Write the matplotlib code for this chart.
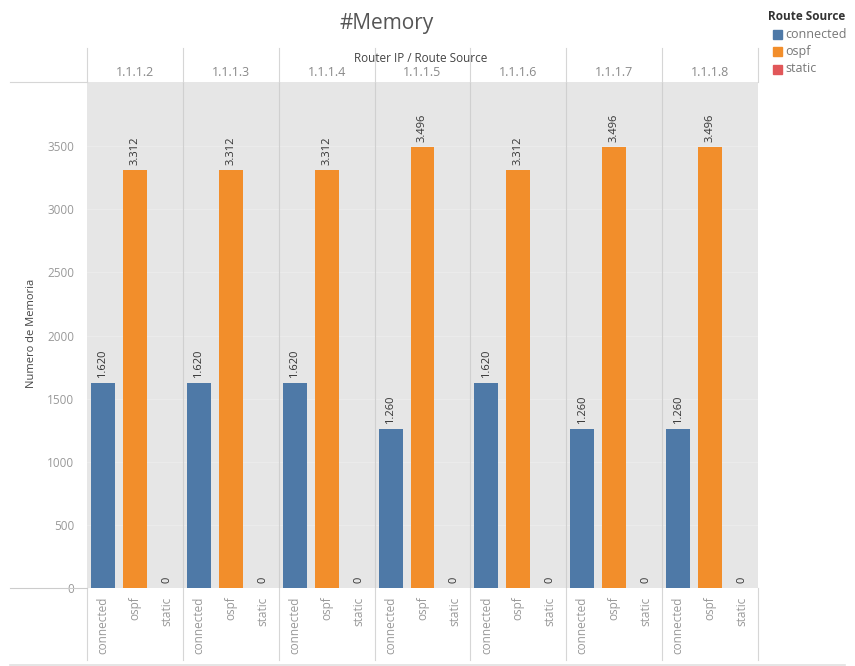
import matplotlib.pyplot as plt
from matplotlib.patches import Rectangle
from matplotlib.lines import Line2D

# data
routers = ['1.1.1.2', '1.1.1.3', '1.1.1.4', '1.1.1.5', '1.1.1.6', '1.1.1.7', '1.1.1.8']
sources = ['connected', 'ospf', 'static']
connected = [1620, 1620, 1620, 1260, 1620, 1260, 1260]
ospf = [3312, 3312, 3312, 3496, 3312, 3496, 3496]
static = [0, 0, 0, 0, 0, 0, 0]
colors = ['#4e79a7', '#f28e2b', '#e15759']
yticks = [0, 500, 1000, 1500, 2000, 2500, 3000, 3500]

W, H = 855, 666
fig = plt.figure(figsize=(W / 100, H / 100), dpi=100)
plt.rcParams['font.family'] = ['Open Sans', 'DejaVu Sans']

x0, x1, ytop, ybot = 87, 758, 82, 588
ax = fig.add_axes([x0 / W, 1 - ybot / H, (x1 - x0) / W, (ybot - ytop) / H])
ax.set_facecolor('#e6e6e6')

n = len(routers)
ax.set_xlim(0, n * 3)
ax.set_ylim(0, 4008)

for yt in yticks[1:]:
    ax.axhline(yt, color='#ececec', lw=0.6, zorder=0)

series = [connected, ospf, static]
for s, vals in enumerate(series):
    for i, v in enumerate(vals):
        xc = i * 3 + s + 0.5
        ax.bar(xc, v, width=0.75, color=colors[s], zorder=2)
        lab = f'{v:,}'.replace(',', '.')
        ax.text(xc, v + 40, lab, rotation=90, ha='center', va='bottom',
                fontsize=8, color='#333333', zorder=3)

# pane separators
for i in range(1, n):
    ax.axvline(i * 3, color='#d0d0d0', lw=0.8, zorder=1)

for sp in ax.spines.values():
    sp.set_visible(False)

ax.set_yticks(yticks)
ax.set_yticklabels([str(t) for t in yticks], fontsize=8.5, color='#999999')
ax.tick_params(axis='y', length=0, pad=9)

xpos = [i * 3 + s + 0.5 for i in range(n) for s in range(3)]
ax.set_xticks(xpos)
ax.set_xticklabels(sources * n, rotation=90, fontsize=8.5, color='#999999', va='top')
ax.tick_params(axis='x', length=0, pad=6)

# header and frame lines in figure pixels
def px(x, y):
    return x / W, 1 - y / H

def fline(xa, ya, xb, yb, c='#d6d6d6', lw=0.8):
    (a, b), (c2, d) = px(xa, ya), px(xb, yb)
    fig.add_artist(Line2D([a, c2], [b, d], color=c, lw=lw, transform=fig.transFigure))

pane_w = (x1 - x0) / n
for i in range(n + 1):
    xx = x0 + i * pane_w
    fline(xx, 48, xx, ytop)
    fline(xx, ybot, xx, 660)
fline(10, ytop, x0, ytop)
fline(10, ybot, x0, ybot, c='#cccccc')
fline(10, 665, W - 10, 665, c='#e0e0e0', lw=1.2)

for i, r in enumerate(routers):
    xc = x0 + (i + 0.5) * pane_w
    fig.text(*px(xc, 72), r, ha='center', va='center', fontsize=9, color='#8a8a8a')

fig.text(*px(421, 58), 'Router IP / Route Source', ha='center', va='center',
         fontsize=8.5, color='#444444')
fig.text(*px(387, 23), '#Memory', ha='center', va='center', fontsize=15, color='#555555')
fig.text(*px(32, 333), 'Numero de Memoria', rotation=90, ha='center',
         va='center', fontsize=8, color='#444444')

# legend
fig.text(*px(768, 17), 'Route Source', ha='left', va='center', fontsize=8.5,
         color='#333333', fontweight='bold')
for k, src in enumerate(sources):
    yy = 34 + k * 17.5
    lx, ly = px(773, yy + 4.5)
    fig.add_artist(Rectangle((lx, ly), 9 / W, 9 / H, color=colors[k],
                             transform=fig.transFigure))
    fig.text(*px(785, yy), src, ha='left', va='center', fontsize=9, color='#777777')

fig.savefig('out.png', dpi=100)
